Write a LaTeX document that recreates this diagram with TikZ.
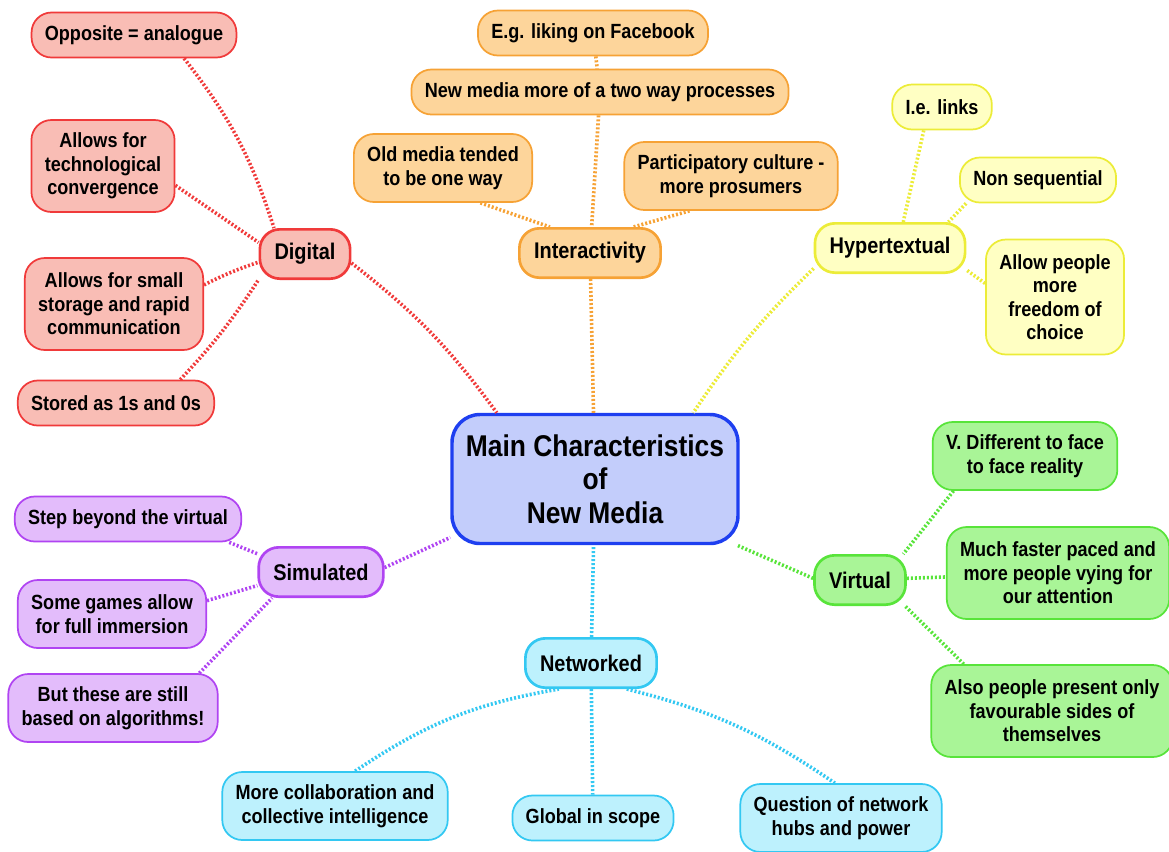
\documentclass[tikz,border=0pt]{standalone}
\usepackage{fontspec}
\setmainfont{Liberation Sans}[FakeStretch=0.88]

\definecolor{rd_fill}{HTML}{F9BDB5}  \definecolor{rd_line}{HTML}{F03A3A}
\definecolor{or_fill}{HTML}{FDD59B}  \definecolor{or_line}{HTML}{F6A235}
\definecolor{ye_fill}{HTML}{FFFFC3}  \definecolor{ye_line}{HTML}{ECEC38}
\definecolor{gr_fill}{HTML}{A9F597}  \definecolor{gr_line}{HTML}{58E43A}
\definecolor{cy_fill}{HTML}{BDF1FD}  \definecolor{cy_line}{HTML}{33C8F2}
\definecolor{pu_fill}{HTML}{E3BCFB}  \definecolor{pu_line}{HTML}{B044F2}
\definecolor{bl_fill}{HTML}{C3CDFB}  \definecolor{bl_line}{HTML}{1E3FF0}

\begin{document}
\begin{tikzpicture}[x=0.75pt, y=-0.75pt,
		box/.style={draw, align=center, rounded corners=15pt, text=black},
		leaf/.style={box, line width=1.3pt, inner xsep=10pt, inner ysep=2pt, minimum height=33.75pt,
			font=\bfseries\fontsize{15.4}{17.6}\selectfont},
		two/.style={minimum height=51pt},
		three/.style={minimum height=69pt},
		four/.style={minimum height=86.25pt},
		branch/.style={box, line width=2pt, inner xsep=11pt, minimum height=37pt,
			font=\bfseries\fontsize{17}{20}\selectfont},
		link/.style={line width=2.7pt, dash pattern=on 1.5pt off 1.5pt},
		rd/.style={fill=rd_fill, draw=rd_line}, or/.style={fill=or_fill, draw=or_line},
		ye/.style={fill=ye_fill, draw=ye_line}, gr/.style={fill=gr_fill, draw=gr_line},
		cy/.style={fill=cy_fill, draw=cy_line}, pu/.style={fill=pu_fill, draw=pu_line}]
	\useasboundingbox (0, 0) rectangle (1169, 851);

	\node[box, fill=bl_fill, draw=bl_line, line width=2.6pt, rounded corners=21pt,
		minimum width=214.5pt, minimum height=96.75pt,
		font=\bfseries\fontsize{22.5}{25}\selectfont] (main) at (595, 479)
		{Main Characteristics\\of\\New Media};

	% digital
	\node[branch, rd] (digital) at (305, 254) {Digital};
	\node[leaf, rd] (opp) at (134, 35) {Opposite = analogue};
	\node[leaf, rd, three] (tech) at (103, 166) {Allows for\\technological\\convergence};
	\node[leaf, rd, three] (storage) at (114, 304) {Allows for small\\storage and rapid\\communication};
	\node[leaf, rd] (stored) at (116, 403) {Stored as 1s and 0s};
	\draw[link, rd_line] (digital.-11) to[bend left=8] (main.146);
	\draw[link, rd_line] (opp.-25) to[bend left=10] (digital.140);
	\draw[link, rd_line] (tech.-15) -- (digital.166);
	\draw[link, rd_line] (storage.12) to[bend left=4] (digital.190);
	\draw[link, rd_line] (stored.20) to[bend right=5] (digital.209);

	% interactivity
	\node[branch, or] (inter) at (590, 253) {Interactivity};
	\node[leaf, or] (fb) at (593, 33) {E.g. liking on Facebook};
	\node[leaf, or] (two_way) at (600, 92) {New media more of a two way processes};
	\node[leaf, or, two] (one_way) at (443, 168) {Old media tended\\to be one way};
	\node[leaf, or, two] (prosum) at (731, 176) {Participatory culture -\\more prosumers};
	\draw[link, or_line] (inter) -- (main);
	\draw[link, or_line] (fb) -- (two_way);
	\draw[link, or_line] (two_way) -- (inter);
	\draw[link, or_line] (one_way.-43) -- (inter.147);
	\draw[link, or_line] (prosum.220) -- (inter.31);

	% hypertextual
	\node[branch, ye] (hyper) at (890, 248) {Hypertextual};
	\node[leaf, ye] (links) at (942, 107) {I.e. links};
	\node[leaf, ye] (non_seq) at (1038, 180) {Non sequential};
	\node[leaf, ye, four] (freedom) at (1055, 297) {Allow people\\more\\freedom of\\choice};
	\draw[link, ye_line] (hyper.195) to[bend right=6] (main.34);
	\draw[link, ye_line] (links.232) -- (hyper.63);
	\draw[link, ye_line] (non_seq.198) -- (hyper.24);
	\draw[link, ye_line] (freedom.169) -- (hyper.-16);

	% virtual
	\node[branch, gr] (virtual) at (860, 580) {Virtual};
	\node[leaf, gr, two] (face) at (1025, 456) {V. Different to face\\to face reality};
	\node[leaf, gr, three] (faster) at (1058, 573) {Much faster paced and\\more people vying for\\our attention};
	\node[leaf, gr, three] (favour) at (1052, 711) {Also people present only\\favourable sides of\\themselves};
	\draw[link, gr_line] (virtual.178) -- (main.-25);
	\draw[link, gr_line] (face.206) -- (virtual.31);
	\draw[link, gr_line] (virtual) -- (faster);
	\draw[link, gr_line] (favour.152) -- (virtual.-30);

	% networked
	\node[branch, cy] (net) at (591, 663) {Networked};
	\node[leaf, cy, two] (collab) at (335, 806) {More collaboration and\\collective intelligence};
	\node[leaf, cy] (global) at (593, 818) {Global in scope};
	\node[leaf, cy, two] (hubs) at (841, 818) {Question of network\\hubs and power};
	\draw[link, cy_line] (net) -- (main);
	\draw[link, cy_line] (collab.60) to[bend left=12] (net.219);
	\draw[link, cy_line] (net) -- (global);
	\draw[link, cy_line] (net.-36) to[bend left=10] (hubs.100);

	% simulated
	\node[branch, pu] (sim) at (321, 572) {Simulated};
	\node[leaf, pu] (step_v) at (128, 519) {Step beyond the virtual};
	\node[leaf, pu, two] (games) at (112, 614) {Some games allow\\for full immersion};
	\node[leaf, pu, two] (algo) at (113, 708) {But these are still\\based on algorithms!};
	\draw[link, pu_line] (sim.4) -- (main.202);
	\draw[link, pu_line] (step_v.-13) -- (sim.164);
	\draw[link, pu_line] (games.8) -- (sim.192);
	\draw[link, pu_line] (algo.22) -- (sim.208);
\end{tikzpicture}
\end{document}
